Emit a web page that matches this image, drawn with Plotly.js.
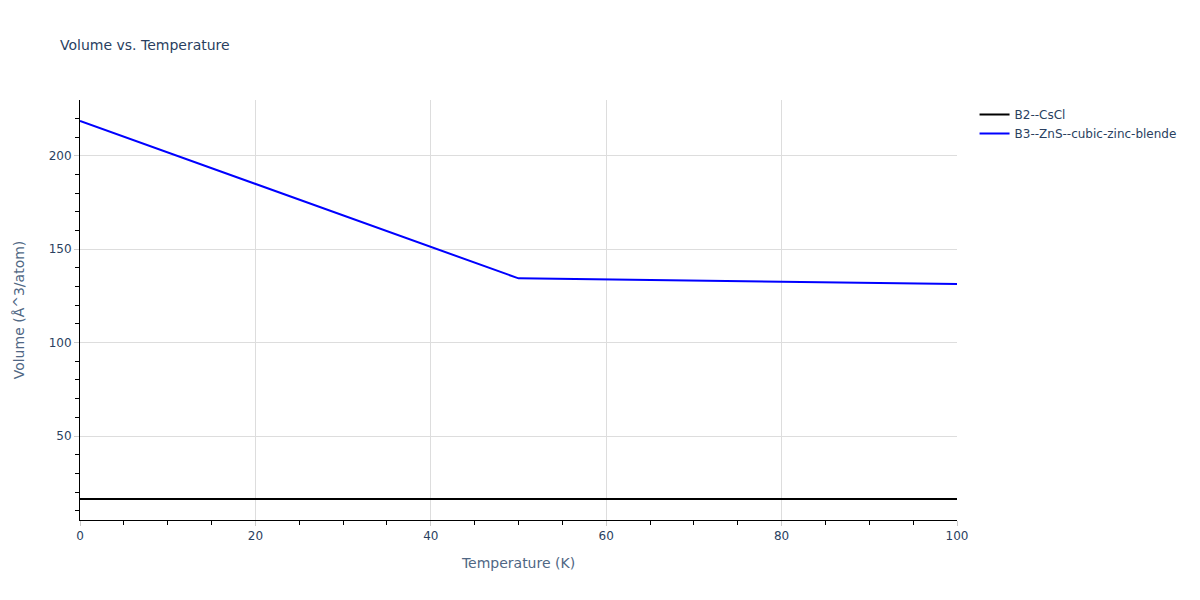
<!DOCTYPE html>
<html>
<head>
<meta charset="utf-8">
<script src="https://cdn.plot.ly/plotly-3.0.1.min.js"></script>
<style>
  html, body { margin: 0; padding: 0; background: #fff; }
  #chart { width: 1200px; height: 600px; }
</style>
</head>
<body>
<div id="chart"></div>
<script>
(function () {
    'use strict';

    // Values
    const seriesNames = ['B2--CsCl', 'B3--ZnS--cubic-zinc-blende'];
    const seriesColors = ['black', 'blue'];

    const tempCsCl = [0, 50, 100];
    const volCsCl = [16.3, 16.3, 16.3];

    const tempZnS = [0, 50, 100];
    const volZnS = [218.6, 134.4, 131.4];

    const axisStyle = {
        showline: true,
        linecolor: 'black',
        linewidth: 1,
        ticks: 'outside',
        tickcolor: '#ccc',
        ticklen: 5,
        gridcolor: '#ddd',
        zeroline: false,
        automargin: false,
        tickfont: { size: 12, color: '#2a3f5f' },
        minor: { ticks: 'outside', ticklen: 4, tickcolor: 'black', showgrid: false }
    };

    const traces = [
        {
            x: tempCsCl, y: volCsCl, name: seriesNames[0],
            type: 'scatter', mode: 'lines',
            line: { color: seriesColors[0], width: 2 }
        },
        {
            x: tempZnS, y: volZnS, name: seriesNames[1],
            type: 'scatter', mode: 'lines',
            line: { color: seriesColors[1], width: 2 }
        }
    ];

    const layout = {
        width: 1200,
        height: 600,
        paper_bgcolor: 'white',
        plot_bgcolor: 'white',
        font: { family: '"DejaVu Sans", Verdana, sans-serif', size: 12, color: '#2a3f5f' },
        title: { text: 'Volume vs. Temperature', x: 0.05, font: { size: 14, color: '#2a3f5f' } },
        margin: { t: 100, b: 80, l: 80, r: 243 },
        xaxis: Object.assign({}, axisStyle, {
            title: { text: 'Temperature (K)', standoff: 15, font: { size: 14, color: '#506784' } },
            range: [0, 100],
            dtick: 20,
            minor: Object.assign({}, axisStyle.minor, { dtick: 5 })
        }),
        yaxis: Object.assign({}, axisStyle, {
            title: { text: 'Volume (Å^3/atom)', standoff: 20, font: { size: 14, color: '#506784' } },
            autorange: true,
            dtick: 50,
            minor: Object.assign({}, axisStyle.minor, { dtick: 10 })
        }),
        showlegend: true,
        legend: { x: 1.02, y: 1, font: { size: 12, color: '#2a3f5f' } }
    };

    Plotly.newPlot('chart', traces, layout, { displayModeBar: false });
})();
</script>
</body>
</html>
